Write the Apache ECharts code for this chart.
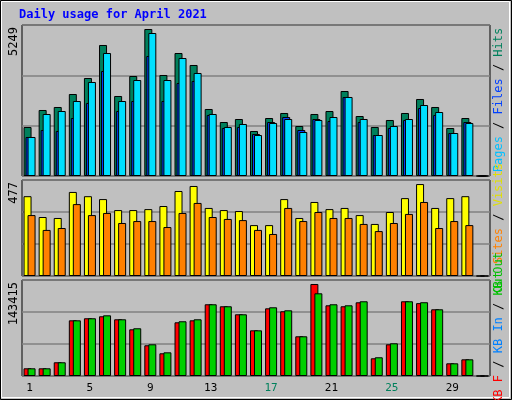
<!DOCTYPE html>
<html>
<head>
<meta charset="utf-8">
<script src="https://cdn.jsdelivr.net/npm/echarts@6/dist/echarts.min.js"></script>
<style>
  html, body { margin: 0; padding: 0; background: #c0c0c0; }
  #chart { width: 512px; height: 400px; }
</style>
</head>
<body>
<div id="chart"></div>
<script>
// 每日数据 (April 2021)
const days = Array.from({ length: 31 }, (_, i) => String(i + 1));
const weekends = [3, 4, 10, 11, 17, 18, 24, 25, 31];

const hits  = [1750, 2357, 2464, 2928, 3500, 4678, 2857, 3571, 5249, 3607, 4392, 3964, 2393, 1928, 2035, 1607,
               2071, 2250, 1785, 2214, 2321, 3035, 2142, 1750, 2000, 2250, 2750, 2464, 1714, 2071, 0];
const files = [1393, 1643, 1607, 2071, 2607, 3750, 2321, 2678, 4285, 2678, 3321, 3392, 2178, 1714, 1750, 1500,
               1928, 2107, 1643, 2035, 1964, 2821, 1928, 1464, 1714, 2000, 2428, 2178, 1535, 1928, 0];
const pages = [1393, 2214, 2321, 2678, 3357, 4392, 2678, 3428, 5106, 3428, 4213, 3678, 2214, 1750, 1857, 1464,
               1893, 2035, 1571, 2000, 2107, 2821, 2035, 1464, 1785, 2035, 2535, 2285, 1535, 1893, 0];

const visits = [414, 306, 301, 436, 414, 399, 342, 342, 347, 363, 441, 467, 353, 342, 337, 264,
                264, 399, 301, 384, 347, 353, 316, 270, 332, 404, 477, 353, 404, 414, 0];
const sites  = [316, 239, 249, 373, 316, 327, 275, 285, 285, 254, 327, 379, 306, 296, 290, 239,
                218, 353, 285, 332, 301, 301, 270, 233, 275, 322, 384, 249, 285, 264, 0];

const kbIn  = [12000, 12000, 21400, 86800, 90000, 93100, 88400, 72800, 47900, 35400, 83700, 86800, 111800, 108700, 96200, 71200,
               105500, 100900, 61900, 143415, 110200, 108700, 114900, 27600, 49400, 116500, 113600, 104000, 19800, 26000, 0];
const kbOut = [12000, 12000, 21400, 86800, 90000, 94600, 88400, 74400, 49400, 36900, 85300, 88400, 111800, 108700, 96200, 71200,
               107100, 102400, 61900, 128900, 111800, 110200, 116500, 29200, 51000, 116500, 115000, 104000, 19800, 26000, 0];

const maxLabels = ['5249', '477', '143415'];

const FONT = '"DejaVu Sans Mono", monospace';
const panels = [
  { top: 25, height: 151, max: 5392 },
  { top: 180, height: 96, max: 498 },
  { top: 280, height: 96, max: 149650 }
];

const chart = echarts.init(document.getElementById('chart'), null, { renderer: 'canvas' });

const grid = panels.map(p => ({
  left: 22, width: 468, top: p.top, height: p.height,
  show: true, backgroundColor: '#c0c0c0', borderColor: '#000', borderWidth: 1
}));
const xAxis = panels.map((p, i) => ({
  type: 'category', gridIndex: i, data: days,
  axisLine: { show: false }, axisTick: { show: false },
  axisLabel: i < 2 ? { show: false } : {
    show: true, margin: 7, fontFamily: FONT, fontSize: 11,
    formatter: v => weekends.includes(+v) ? '{w|' + v + '}' : v,
    color: '#000', rich: { w: { color: '#00805c', fontFamily: FONT, fontSize: 11 } }
  }
}));
const yAxis = panels.map((p, i) => ({
  type: 'value', gridIndex: i, min: 0, max: p.max, interval: p.max / 3,
  axisLabel: { show: false }, axisLine: { show: false }, axisTick: { show: false },
  splitLine: { lineStyle: { color: '#808080', width: 1.5 } }
}));

function bars(name, data, color, idx, gap) {
  return {
    name, type: 'bar', data, xAxisIndex: idx, yAxisIndex: idx,
    barWidth: 8, barGap: gap, silent: true, animation: false,
    itemStyle: { color, borderColor: '#000', borderWidth: 1 }
  };
}

const series = [
  bars('Hits', hits, '#00805c', 0, '-75%'),
  bars('Files', files, '#0040ff', 0, '-75%'),
  bars('Pages', pages, '#00e0ff', 0, '-75%'),
  bars('Visits', visits, '#ffff00', 1, '-50%'),
  bars('Sites', sites, '#ff8000', 1, '-50%'),
  bars('KB In', kbIn, '#ff0000', 2, '-50%'),
  bars('KB Out', kbOut, '#00d000', 2, '-50%')
];

// 左侧最大值 / 右侧图例 (竖排文字)
const sideText = (x, y, text, rich, align) => ({
  type: 'text', x, y, rotation: Math.PI / 2,
  style: { text, rich, fontFamily: FONT, fontSize: 12, fill: '#000', align, verticalAlign: 'middle' }
});
const r = c => ({ fill: c, fontFamily: FONT, fontSize: 12 });

const graphic = [
  { type: 'rect', shape: { x: 0.5, y: 0.5, width: 511, height: 399 }, style: { fill: 'none', stroke: '#000' } },
  { type: 'rect', shape: { x: 1.5, y: 1.5, width: 508, height: 396 }, style: { fill: 'none', stroke: '#fff' } },
  { type: 'text', x: 19, y: 9, style: { text: 'Daily usage for April 2021', font: 'bold 12px ' + FONT, fill: '#0000ff' } },
  sideText(14, 27, maxLabels[0], {}, 'right'),
  sideText(14, 182, maxLabels[1], {}, 'right'),
  sideText(14, 282, maxLabels[2], {}, 'right'),
  sideText(499, 100, '{c|Pages} / {b|Files} / {g|Hits}', { c: r('#00c0ff'), b: r('#0040ff'), g: r('#00805c') }, 'center'),
  sideText(499, 228, '{g|Out} {o|Sites} / {y|Visits}', { g: r('#00c000'), o: r('#ff8000'), y: r('#e0e000') }, 'center'),
  sideText(499, 328, '{r|KB F} / {b|KB In} / {g|KB Out}', { r: r('#ff0000'), b: r('#0080ff'), g: r('#00c000') }, 'center')
];

chart.setOption({ backgroundColor: '#c0c0c0', animation: false, grid, xAxis, yAxis, series, graphic });
</script>
</body>
</html>
